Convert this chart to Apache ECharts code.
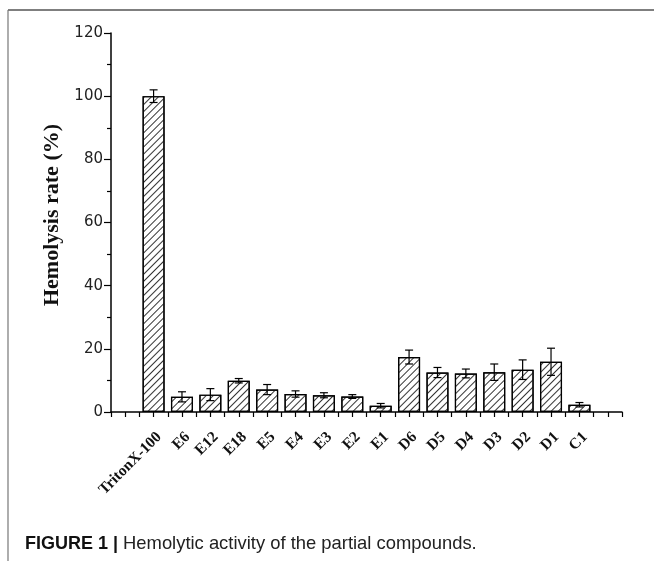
<!DOCTYPE html>
<html>
<head>
<meta charset="utf-8">
<script src="https://cdn.jsdelivr.net/npm/echarts@6/dist/echarts.min.js"></script>
<style>
html,body{margin:0;padding:0;background:#fff;}
#chart{width:654px;height:561px;}
</style>
</head>
<body>
<div id="chart"></div>
<script>
const categories = ['', 'TritonX-100', 'E6', 'E12', 'E18', 'E5', 'E4', 'E3', 'E2', 'E1', 'D6', 'D5', 'D4', 'D3', 'D2', 'D1', 'C1', ''];
const rates = [null, 100, 4.8, 5.5, 9.9, 7.1, 5.7, 5.3, 4.9, 2.0, 17.4, 12.5, 12.2, 12.6, 13.4, 15.9, 2.3, null];
const errors = [null, 2.0, 1.6, 1.9, 0.7, 1.6, 1.0, 0.8, 0.6, 0.7, 2.2, 1.6, 1.4, 2.6, 3.1, 4.3, 0.7, null];
const yTicks = [0, 20, 40, 60, 80, 100, 120];
const yTitle = 'Hemolysis rate (%)';
const captionBold = 'FIGURE 1 | ';
const captionText = 'Hemolytic activity of the partial compounds.';

const chart = echarts.init(document.getElementById('chart'), null, {renderer: 'canvas'});
const errData = rates.map((v, i) => v == null ? null : [i, v - errors[i], v + errors[i]]).filter(d => d);

const option = {
  animation: false,
  backgroundColor: '#fff',
  grid: {left: 111, right: 32, top: 33, bottom: 149, containLabel: false},
  xAxis: [{
    type: 'category',
    data: categories,
    boundaryGap: true,
    axisLine: {lineStyle: {color: '#000', width: 1.5}},
    axisTick: {show: true, inside: false, length: 5, interval: 0, lineStyle: {color: '#000', width: 1.2}},
    axisLabel: {
      interval: 0, rotate: 45, margin: 17, verticalAlign: 'top',
      fontFamily: 'Liberation Serif', fontWeight: 'bold', fontSize: 15.5, color: '#111'
    }
  }, {
    type: 'category',
    data: categories,
    position: 'bottom',
    boundaryGap: true,
    axisLine: {show: false},
    axisTick: {show: true, alignWithLabel: true, length: 5, interval: 0, lineStyle: {color: '#000', width: 1.2}},
    axisLabel: {show: false}
  }],
  yAxis: {
    type: 'value',
    min: yTicks[0], max: yTicks[yTicks.length - 1], interval: 20,
    axisLine: {show: true, lineStyle: {color: '#000', width: 1.5}},
    axisTick: {show: true, inside: false, length: 7, lineStyle: {color: '#000', width: 1.2}},
    minorTick: {show: true, splitNumber: 2, length: 4, lineStyle: {color: '#000', width: 1.2}},
    splitLine: {show: false},
    axisLabel: {fontFamily: 'DejaVu Sans', fontSize: 15, color: '#222', margin: 8}
  },
  series: [{
    type: 'bar',
    data: rates.map(v => v == null ? '-' : v),
    barWidth: 22,
    itemStyle: {
      color: '#fff',
      borderColor: '#000',
      borderWidth: 1.2,
      decal: {
        symbol: 'rect',
        color: '#333',
        dashArrayX: [1, 0],
        dashArrayY: [1, 3.2],
        rotation: -Math.PI / 4
      }
    }
  }, {
    type: 'custom',
    data: errData,
    z: 10,
    renderItem: function (params, api) {
      const x = api.value(0);
      const lo = api.coord([x, api.value(1)]);
      const hi = api.coord([x, api.value(2)]);
      const hw = 4;
      const style = {stroke: '#000', lineWidth: 1.2};
      return {
        type: 'group',
        children: [
          {type: 'line', shape: {x1: lo[0], y1: lo[1], x2: hi[0], y2: hi[1]}, style: style},
          {type: 'line', shape: {x1: hi[0] - hw, y1: hi[1], x2: hi[0] + hw, y2: hi[1]}, style: style},
          {type: 'line', shape: {x1: lo[0] - hw, y1: lo[1], x2: lo[0] + hw, y2: lo[1]}, style: style}
        ]
      };
    }
  }],
  graphic: [
    {type: 'line', shape: {x1: 8, y1: 10, x2: 654, y2: 10}, style: {stroke: '#555', lineWidth: 1.5}},
    {type: 'line', shape: {x1: 8, y1: 10, x2: 8, y2: 561}, style: {stroke: '#777', lineWidth: 1.2}},
    {
      type: 'text', x: 52, y: 215, rotation: Math.PI / 2,
      style: {
        text: yTitle, align: 'center', verticalAlign: 'middle',
        font: 'bold 22px "Liberation Serif", serif', fill: '#111'
      }
    },
    {
      type: 'text', x: 25, y: 544,
      style: {
        text: '{b|' + captionBold + '}{r|' + captionText + '}',
        verticalAlign: 'middle',
        font: '18px "Liberation Sans", Arial, sans-serif',
        fill: '#222',
        rich: {
          b: {fontWeight: 'bold', fontFamily: 'Liberation Sans', fontSize: 18, fill: '#111'},
          r: {fontFamily: 'Liberation Sans', fontSize: 18.4, fill: '#222'}
        }
      }
    }
  ]
};
chart.setOption(option);
</script>
</body>
</html>
